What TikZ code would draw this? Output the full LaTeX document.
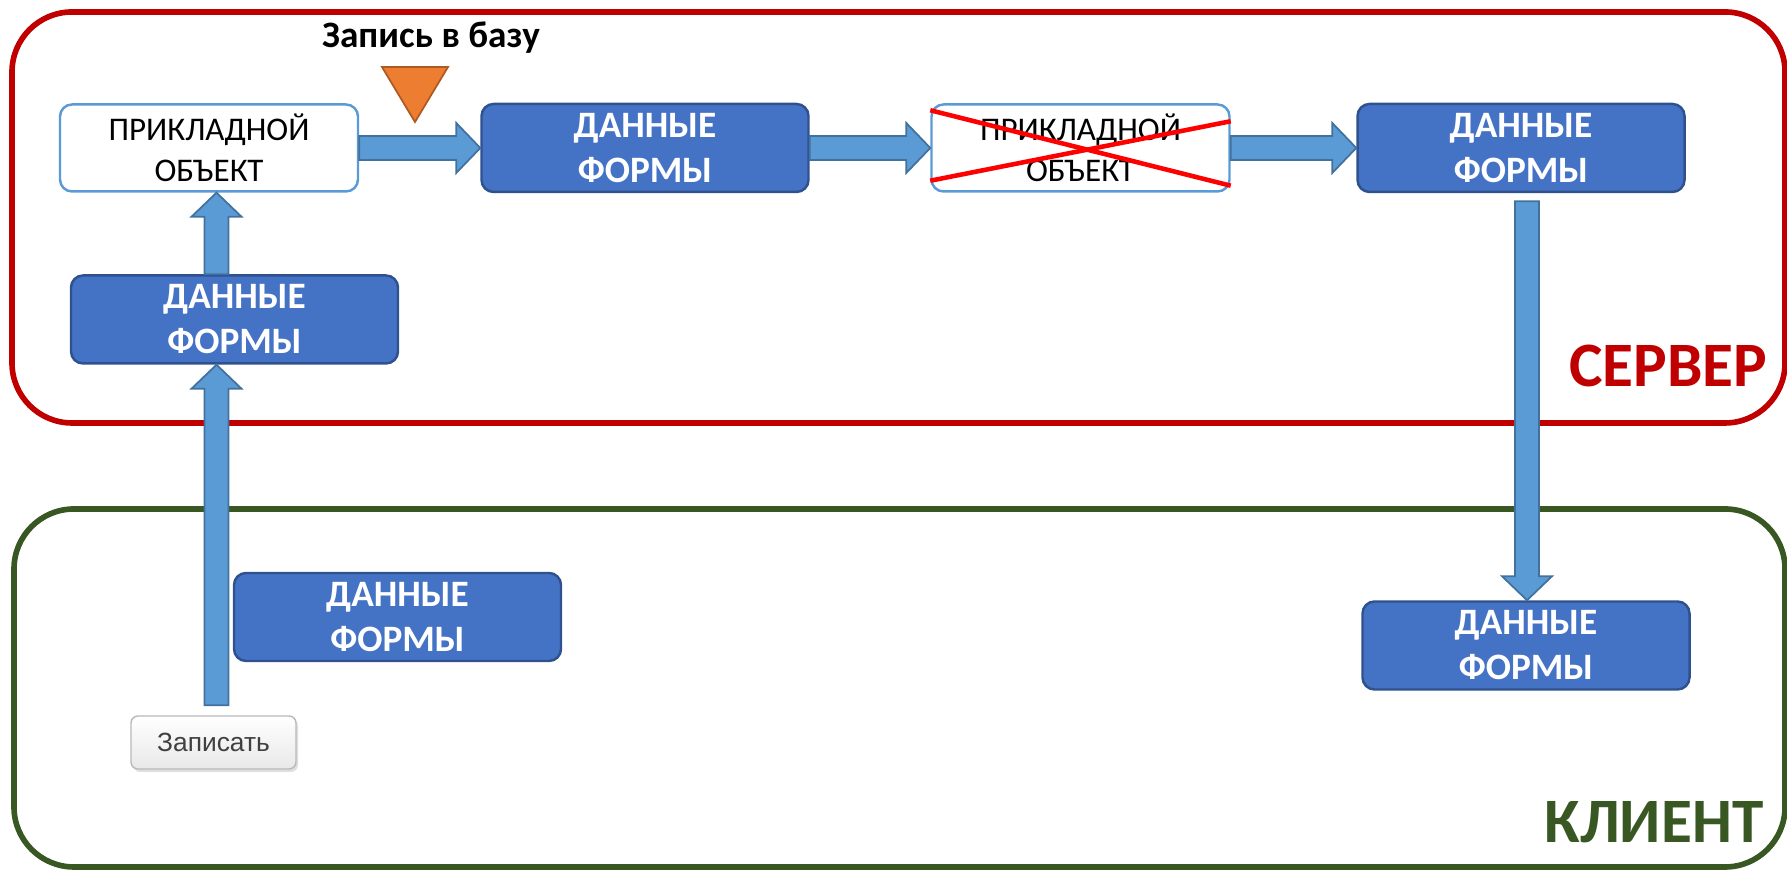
\documentclass[tikz,border=0pt]{standalone}
\usepackage{fontspec}
\setmainfont{Carlito}
\newfontfamily\btnfont{Liberation Sans}
\usetikzlibrary{calc,shadows}

\definecolor{boxblue}{HTML}{4472C4}
\definecolor{boxedge}{HTML}{2F528F}
\definecolor{arrowblue}{HTML}{5B9BD5}
\definecolor{arrowedge}{HTML}{41719C}
\definecolor{srvred}{HTML}{C00000}
\definecolor{clgreen}{HTML}{385723}
\definecolor{triorange}{HTML}{ED7D31}
\definecolor{triedge}{HTML}{AE5A21}

\tikzset{
    databox/.style={draw=boxedge, fill=boxblue, line width=0.7pt, rounded corners=0.12cm,
        minimum width=3.27cm, minimum height=0.88cm, inner sep=0pt, align=center,
        text=white, font=\bfseries\fontsize{10.6}{12.8}\selectfont},
    objbox/.style={draw=arrowblue, fill=white, line width=0.7pt, rounded corners=0.12cm,
        minimum width=2.98cm, minimum height=0.87cm, inner sep=0pt, align=center,
        text=black, font=\fontsize{9.4}{11.6}\selectfont},
    btnbox/.style={draw=gray!55, rounded corners=2pt, top color=white, bottom color=gray!18,
        minimum width=1.65cm, minimum height=0.53cm, inner sep=0pt, text=black!75,
        font=\btnfont\fontsize{7.5}{9}\selectfont,
        drop shadow={opacity=0.25, shadow xshift=0.02cm, shadow yshift=-0.03cm}},
    zoneframe/.style={rounded corners=0.6cm, line width=1.6pt},
    zonelabel/.style={inner sep=0pt, anchor=base east, font=\bfseries\fontsize{18}{20}\selectfont},
    bluearrow/.style={fill=arrowblue, draw=arrowedge, line width=0.5pt},
    redcross/.style={draw=red, line width=1.3pt},
}

% block arrow from #1 to #2
\newcommand{\fatarrow}[2]{%
    \coordinate (fa-s) at (#1);
    \coordinate (fa-e) at (#2);
    \coordinate (fa-h) at ($(fa-e)!0.24cm!(fa-s)$);
    \filldraw[bluearrow] ($(fa-s)!0.12cm!90:(fa-e)$) -- ($(fa-h)!0.12cm!90:(fa-e)$)
        -- ($(fa-h)!0.25cm!90:(fa-e)$) -- (fa-e) -- ($(fa-h)!0.25cm!-90:(fa-e)$)
        -- ($(fa-h)!0.12cm!-90:(fa-e)$) -- ($(fa-s)!0.12cm!-90:(fa-e)$) -- cycle;
}

\begin{document}
\begin{tikzpicture}
    \useasboundingbox (0,0) rectangle (17.87,8.70);
    % Server and client zones
    \draw[zoneframe, draw=srvred] (0.12,4.47) rectangle (17.85,8.58);
    \draw[zoneframe, draw=clgreen] (0.14,0.03) rectangle (17.85,3.61);
    \node[zonelabel, text=srvred] (srvlabel) at (17.68,4.83) {СЕРВЕР};
    \node[zonelabel, text=clgreen] (cllabel) at (17.64,0.27) {КЛИЕНТ};

    % Top row (server)
    \node[objbox] (objA) at (2.09,7.22) {ПРИКЛАДНОЙ\\ОБЪЕКТ};
    \node[databox] (dataA) at (6.45,7.22) {ДАННЫЕ\\ФОРМЫ};
    \node[objbox] (objB) at (10.805,7.22) {ПРИКЛАДНОЙ\\ОБЪЕКТ};
    \node[databox] (dataB) at (15.21,7.22) {ДАННЫЕ\\ФОРМЫ};
    \node[databox] (dataD) at (2.345,5.505) {ДАННЫЕ\\ФОРМЫ};

    % Client side
    \node[databox] (dataE) at (3.975,2.53) {ДАННЫЕ\\ФОРМЫ};
    \node[databox] (dataC) at (15.26,2.245) {ДАННЫЕ\\ФОРМЫ};
    \node[btnbox] (btn) at (2.135,1.275) {Записать};

    % Write marker
    \node[inner sep=0pt, anchor=base, font=\bfseries\fontsize{10.6}{12}\selectfont] (dblabel) at (4.31,8.22) {Запись в базу};
    \filldraw[fill=triorange, draw=triedge, line width=0.5pt] (3.82,8.03) -- (4.48,8.03) -- (4.15,7.48) -- cycle;

    % Object thrown away
    \draw[redcross] ($(objB.north west)+(0,-0.07)$) -- ($(objB.south east)+(0,0.07)$);
    \draw[redcross] ($(objB.south west)+(0,0.12)$) -- ($(objB.north east)+(0,-0.18)$);

    % Arrows
    \coordinate (leftaxis) at (2.165,0);
    \coordinate (rightaxis) at (15.27,0);
    \fatarrow{objA.east}{dataA.west}
    \fatarrow{dataA.east}{objB.west}
    \fatarrow{objB.east}{dataB.west}
    \fatarrow{dataD.north -| leftaxis}{objA.south -| leftaxis}
    \fatarrow{$(btn.north -| leftaxis)+(0,0.1)$}{dataD.south -| leftaxis}
    \fatarrow{$(dataB.south -| rightaxis)+(0,-0.08)$}{dataC.north -| rightaxis}
\end{tikzpicture}
\end{document}
